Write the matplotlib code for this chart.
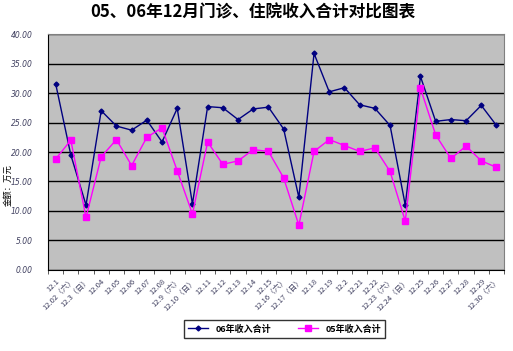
import numpy as np
import matplotlib.pyplot as plt

plt.rcParams['font.family'] = ['Noto Sans CJK SC', 'DejaVu Sans']

# ── data ──────────────────────────────────────────────────────────────────
days = ['12.1', '12.02（六）', '12.3（日）', '12.04', '12.05', '12.06', '12.07',
        '12.08', '12.9（六）', '12.10（日）', '12.11', '12.12', '12.13', '12.14',
        '12.15', '12.16（六）', '12.17（日）', '12.18', '12.19', '12.2', '12.21',
        '12.22', '12.23（六）', '12.24（日）', '12.25', '12.26', '12.27', '12.28',
        '12.29', '12.30（六）']
inc06 = [31.6, 19.5, 11.0, 27.0, 24.4, 23.7, 25.4, 21.7, 27.4, 11.2,
         27.7, 27.5, 25.5, 27.3, 27.6, 23.9, 12.3, 36.7, 30.2, 30.9,
         28.0, 27.4, 24.5, 11.0, 32.8, 25.2, 25.5, 25.3, 27.9, 24.5]
inc05 = [18.8, 22.0, 8.9, 19.2, 22.1, 17.7, 22.5, 24.1, 16.8, 9.5,
         21.7, 17.9, 18.5, 20.4, 20.1, 15.6, 7.6, 20.1, 22.1, 21.1,
         20.1, 20.7, 16.7, 8.3, 30.8, 22.9, 18.9, 21.0, 18.5, 17.4]
yticks = np.arange(0, 41, 5)

# ── figure ────────────────────────────────────────────────────────────────
fig = plt.figure(figsize=(5.13, 3.51), dpi=100)
ax = fig.add_axes([0.0936, 0.2308, 0.889, 0.6723])
ax.set_facecolor('#C0C0C0')

x = np.arange(len(days))
ax.plot(x, inc06, color='#000080', lw=1, marker='D', ms=2.5,
        label='06年收入合计')
ax.plot(x, inc05, color='#FF00FF', lw=1, marker='s', ms=4,
        label='05年收入合计')

ax.set_xlim(-0.5, len(days) - 0.5)
ax.set_ylim(0, 40)
ax.set_yticks(yticks)
ax.set_yticklabels([f'{v:.2f}' for v in yticks], fontsize=5.5,
                   style='italic', color='#404060', family='DejaVu Sans')
ax.yaxis.grid(True, color='black', lw=1)
ax.set_axisbelow(True)
ax.tick_params(axis='y', length=0, pad=11)

ax.set_xticks(x)
ax.set_xticklabels(days, fontsize=5.5, rotation=45, ha='right', va='top',
                   rotation_mode='anchor', color='#404060')
ax.set_xticks(np.arange(-0.5, len(days)), minor=True)
ax.tick_params(axis='x', which='major', length=0, pad=5)
ax.tick_params(axis='x', which='minor', length=3, color='#404040')

for s in ax.spines.values():
    s.set_color('#808080')
ax.spines['bottom'].set_color('black')
ax.spines['left'].set_color('black')

ax.set_ylabel('金额：万元', fontsize=6)
ax.yaxis.set_label_coords(-0.078, 0.36)
fig.suptitle('05、06年12月门诊、住院收入合计对比图表', fontsize=12,
             fontweight='bold', x=0.492, y=0.99)

leg = fig.legend(loc='center', bbox_to_anchor=(0.555, 0.063), ncol=2,
                 fontsize=6.5, frameon=True, fancybox=False,
                 edgecolor='black', borderpad=0.5, columnspacing=3,
                 handlelength=2.2)
leg.get_frame().set_linewidth(1)
for t in leg.get_texts():
    t.set_fontweight('bold')

fig.savefig('out.png', dpi=100)
